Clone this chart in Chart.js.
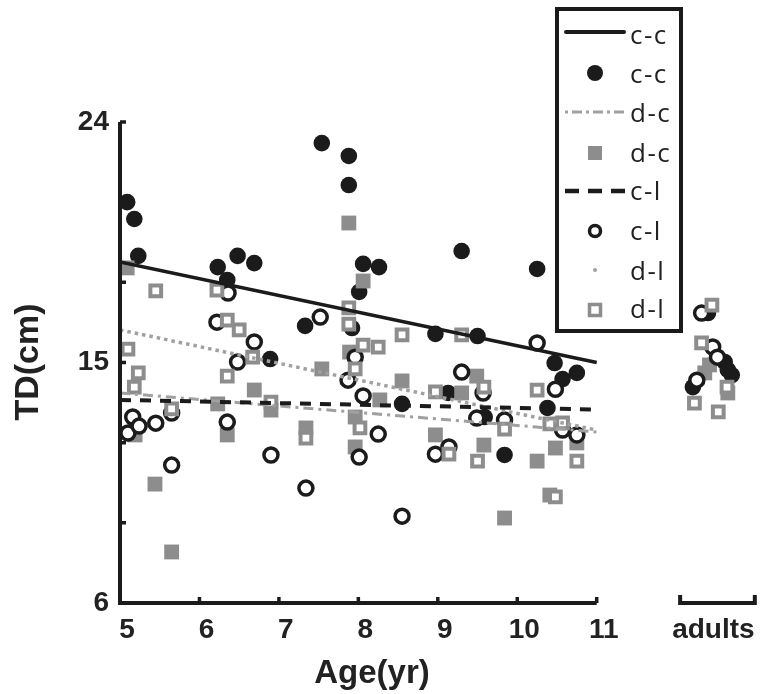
<!DOCTYPE html>
<html><head><meta charset="utf-8">
<script src="https://cdn.jsdelivr.net/npm/chart.js@4/dist/chart.umd.min.js"></script>
<style>html,body{margin:0;padding:0;background:#fff;}canvas{display:block;}</style>
</head><body>
<canvas id="c" width="761" height="694"></canvas>
<script>
// ---- data ----
const ageTicks = [5, 6, 7, 8, 9, 10, 11];
const adultTick = 12.38;
const adultLabel = 'adults';
const tdTicks = [6, 9, 12, 15, 18, 21, 24];
const tdLabels = [6, 15, 24];

const ccAge = [5.09,5.18,5.23,6.23,6.35,6.48,6.69,6.89,7.33,7.54,7.88,7.88,7.92,8.01,8.06,8.26,8.55,8.97,9.13,9.30,9.50,9.59,9.84,10.25,10.38,10.47,10.57,10.75];
const ccTD  = [21.0,20.37,18.99,18.57,18.09,18.99,18.72,15.13,16.37,23.21,22.73,21.64,16.29,17.64,18.69,18.57,13.45,16.07,13.86,19.17,15.99,12.96,11.54,18.5,13.3,14.98,14.38,14.61];

const dcAge = [5.09,5.19,5.44,5.65,6.23,6.35,6.69,6.90,7.34,7.54,7.88,7.89,7.96,7.96,8.06,8.27,8.55,8.97,9.30,9.49,9.58,9.84,10.25,10.41,10.48,10.75];
const dcTD  = [18.54,12.29,10.45,7.91,13.45,12.29,13.97,13.22,12.55,14.76,20.22,15.39,12.96,11.84,18.05,13.6,14.31,12.29,13.86,14.49,11.91,9.18,11.31,10.04,11.80,11.99];

const clAge = [5.10,5.16,5.24,5.45,5.65,5.65,6.22,6.35,6.36,6.48,6.69,6.90,7.34,7.52,7.87,7.96,8.01,8.06,8.25,8.55,8.97,9.14,9.30,9.49,9.57,9.84,10.25,10.48,10.57,10.75];
const clTD  = [12.36,12.96,12.62,12.73,13.11,11.16,16.51,12.77,17.6,15.02,15.77,11.54,10.30,16.7,14.34,15.2,11.46,13.75,12.32,9.25,11.57,11.84,14.64,12.92,13.86,12.85,15.73,14.0,12.47,12.29];

const dlAge = [5.10,5.18,5.23,5.45,5.65,6.22,6.35,6.35,6.50,6.67,6.90,7.34,7.88,7.88,7.96,8.02,8.06,8.25,8.55,8.97,9.14,9.30,9.50,9.58,9.84,10.25,10.41,10.48,10.57,10.75];
const dlTD  = [15.5,14.08,14.61,17.68,13.26,17.71,16.59,14.49,16.22,15.2,13.52,12.17,17.04,16.44,14.76,12.55,15.65,15.58,16.03,13.9,11.57,16.03,11.31,14.08,12.51,13.97,12.7,9.97,12.74,11.31];

// adults group (plotted in the separate "adults" segment)
const ccAdultPos = [12.40,12.61,12.65,12.70,12.21];
const ccAdultTD  = [16.85,15.02,14.72,14.53,14.08];
const dcAdultPos = [12.42,12.36,12.65];
const dcAdultTD  = [14.91,14.61,13.86];
const clAdultPos = [12.32,12.46,12.52,12.26];
const clAdultTD  = [16.85,15.58,15.2,14.34];
const dlAdultPos = [12.45,12.32,12.64,12.23,12.53];
const dlAdultTD  = [17.15,15.73,14.08,13.48,13.15];

// regression lines (end points over ages 5..11)
const fitAge = [5, 11];
const ccFit = [18.76, 15.0];
const dcFit = [13.86, 12.40];
const clFit = [13.6, 13.24];
const dlFit = [16.22, 12.47];

// ---- styles ----
const BLACK = '#1b1b1b';
const GRAY = '#8d8d8d';
const LGRAY = '#a0a0a0';

const pts = (xs, ys) => xs.map((x, i) => ({x: x, y: ys[i]}));

const datasets = [
  {label:'c-c', type:'line', data: pts(fitAge, ccFit), borderColor: BLACK, borderWidth: 3.5, pointRadius: 0, showLine: true, fill:false},
  {label:'c-l', type:'line', data: pts(fitAge, clFit), borderColor: BLACK, borderWidth: 4, borderDash:[11,9], pointRadius: 0, showLine: true, fill:false},
  {label:'d-c', type:'line', data: pts(fitAge, dcFit), borderColor: LGRAY, borderWidth: 3, borderDash:[10,5,3,5], pointRadius: 0, showLine: true, fill:false},
  {label:'d-l', type:'line', data: pts(fitAge, dlFit), borderColor: LGRAY, borderWidth: 3.5, borderDash:[3.5,4], pointRadius: 0, showLine: true, fill:false},
  {label:'d-l', data: pts(dlAge, dlTD).concat(pts(dlAdultPos, dlAdultTD)), pointStyle:'rect', pointRadius: 7.6, backgroundColor:'#ffffff', borderColor: GRAY, borderWidth: 4},
  {label:'c-l', data: pts(clAge, clTD).concat(pts(clAdultPos, clAdultTD)), pointStyle:'circle', pointRadius: 7, backgroundColor:'#ffffff', borderColor: BLACK, borderWidth: 3.5},
  {label:'d-c', data: pts(dcAge, dcTD).concat(pts(dcAdultPos, dcAdultTD)), pointStyle:'rect', pointRadius: 10.5, backgroundColor: GRAY, borderColor: GRAY, borderWidth: 0},
  {label:'c-c', data: pts(ccAge, ccTD).concat(pts(ccAdultPos, ccAdultTD)), pointStyle:'circle', pointRadius: 8.3, backgroundColor: BLACK, borderColor: BLACK, borderWidth: 0},
];

const axesPlugin = {
  id: 'axesPlugin',
  afterDatasetsDraw(chart) {
    const {ctx, scales: {x, y}} = chart;
    const x0 = x.getPixelForValue(5), x1 = x.getPixelForValue(11);
    const yTop = y.getPixelForValue(24), yBot = y.getPixelForValue(6);
    ctx.save();
    ctx.strokeStyle = BLACK;
    ctx.lineWidth = 4;
    ctx.lineJoin = 'miter';
    ctx.beginPath();
    ctx.moveTo(x0, yTop); ctx.lineTo(x0, yBot); ctx.lineTo(x1, yBot);
    ctx.stroke();
    ctx.lineWidth = 3.5;
    ctx.beginPath();
    tdTicks.forEach(v => { const p = y.getPixelForValue(v); ctx.moveTo(x0, p); ctx.lineTo(x0 + 6, p); });
    ageTicks.slice(1).forEach(v => { const p = x.getPixelForValue(v); ctx.moveTo(p, yBot); ctx.lineTo(p, yBot - 6); });
    ctx.stroke();
    // adults segment
    const a0 = x.getPixelForValue(12.05), a1 = x.getPixelForValue(12.99);
    ctx.lineWidth = 4;
    ctx.beginPath();
    ctx.moveTo(a0, yBot - 8); ctx.lineTo(a0, yBot); ctx.lineTo(a1, yBot); ctx.lineTo(a1, yBot - 8);
    ctx.stroke();
    ctx.restore();
  },
  afterDraw(chart) {
    const {ctx} = chart;
    ctx.save();
    // axis titles
    ctx.fillStyle = '#222';
    ctx.font = 'bold 33px "Liberation Sans", Arial, sans-serif';
    ctx.textAlign = 'center';
    ctx.textBaseline = 'alphabetic';
    ctx.fillText('Age(yr)', 372, 683);
    ctx.save();
    ctx.translate(38, 362);
    ctx.rotate(-Math.PI / 2);
    ctx.font = 'bold 34px "Liberation Sans", Arial, sans-serif';
    ctx.fillText('TD(cm)', 0, 0);
    ctx.restore();

    // legend box
    ctx.fillStyle = '#fff';
    ctx.fillRect(557, 9, 124, 322);
    ctx.strokeStyle = '#1a1a1a';
    ctx.lineWidth = 4;
    ctx.strokeRect(557, 9, 124, 322);

    const mx = 595;
    // 1 solid line
    ctx.lineWidth = 4; ctx.lineCap = 'round'; ctx.strokeStyle = BLACK;
    ctx.beginPath(); ctx.moveTo(566, 32); ctx.lineTo(624, 32); ctx.stroke();
    // 2 black dot
    ctx.fillStyle = BLACK; ctx.beginPath(); ctx.arc(mx, 73, 8, 0, Math.PI * 2); ctx.fill();
    // 3 dash-dot gray
    ctx.strokeStyle = LGRAY; ctx.lineWidth = 3; ctx.lineCap = 'butt';
    ctx.setLineDash([3, 4, 10, 4]);
    ctx.beginPath(); ctx.moveTo(565, 112); ctx.lineTo(626, 112); ctx.stroke();
    ctx.setLineDash([]);
    // 4 gray square
    ctx.fillStyle = GRAY; ctx.fillRect(mx - 7, 146, 14, 14);
    // 5 dashed black
    ctx.strokeStyle = BLACK; ctx.lineWidth = 4.5; ctx.lineCap = 'butt';
    ctx.setLineDash([14, 9]);
    ctx.beginPath(); ctx.moveTo(565, 191); ctx.lineTo(626, 191); ctx.stroke();
    ctx.setLineDash([]);
    // 6 open circle
    ctx.fillStyle = '#fff'; ctx.strokeStyle = BLACK; ctx.lineWidth = 3.5;
    ctx.beginPath(); ctx.arc(mx, 231, 5.5, 0, Math.PI * 2); ctx.fill(); ctx.stroke();
    // 7 small gray dot
    ctx.fillStyle = LGRAY; ctx.beginPath(); ctx.arc(mx, 270, 2, 0, Math.PI * 2); ctx.fill();
    // 8 open gray square
    ctx.fillStyle = '#fff'; ctx.strokeStyle = GRAY; ctx.lineWidth = 3.5;
    ctx.fillRect(mx - 5.5, 304.5, 11, 11); ctx.strokeRect(mx - 5.5, 304.5, 11, 11);

    // legend labels
    ctx.fillStyle = '#222';
    ctx.font = '26px "Open Sans", "DejaVu Sans", sans-serif';
    ctx.textAlign = 'left';
    ctx.textBaseline = 'alphabetic';
    try { ctx.letterSpacing = '1.5px'; } catch (e) {}
    const labels = ['c-c','c-c','d-c','d-c','c-l','c-l','d-l','d-l'];
    const bases = [44, 83, 122, 162, 200, 240, 280, 318];
    labels.forEach((t, i) => ctx.fillText(t, 630, bases[i]));
    ctx.restore();
  }
};

new Chart(document.getElementById('c'), {
  type: 'scatter',
  data: { datasets: datasets },
  options: {
    responsive: false,
    devicePixelRatio: 1,
    animation: false,
    events: [],
    layout: { autoPadding: false, padding: { left: 0, right: 3, top: 122, bottom: 0 } },
    plugins: { legend: { display: false }, tooltip: { enabled: false }, title: { display: false } },
    scales: {
      x: {
        type: 'linear', min: 5, max: 13.03,
        grid: { display: false, drawTicks: false },
        border: { display: false },
        afterBuildTicks: (s) => { s.ticks = [adultTick].concat(ageTicks).map(v => ({value: v})); },
        afterFit: (s) => { s.height = 91; s.paddingLeft = 0; s.paddingRight = 0; },
        ticks: {
          autoSkip: false, maxRotation: 0, minRotation: 0,
          padding: 10, labelOffset: 7,
          color: '#222',
          font: { family: '"Liberation Sans", Arial, sans-serif', size: 28, weight: 'bold' },
          callback: (v) => v === adultTick ? adultLabel : String(v)
        }
      },
      y: {
        type: 'linear', min: 6, max: 24,
        grid: { display: false, drawTicks: false },
        border: { display: false },
        afterBuildTicks: (s) => { s.ticks = tdTicks.map(v => ({value: v})); },
        afterFit: (s) => { s.width = 120; s.paddingTop = 0; s.paddingBottom = 0; },
        ticks: {
          padding: 11,
          color: '#222',
          font: { family: '"Liberation Sans", Arial, sans-serif', size: 28, weight: 'bold' },
          callback: (v) => tdLabels.includes(v) ? String(v) : ''
        }
      }
    }
  },
  plugins: [axesPlugin]
});
</script>
</body></html>
